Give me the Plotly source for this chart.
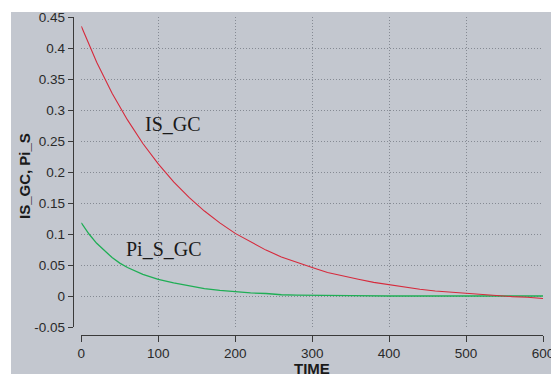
import plotly.graph_objects as go

# ---- data ----
is_time = [0, 20, 40, 60, 80, 100, 120, 140, 160, 180, 200, 220, 240, 260, 280, 300,
           320, 340, 360, 380, 400, 420, 440, 460, 480, 500, 520, 540, 560, 580, 600]
is_gc = [0.435, 0.377, 0.327, 0.284, 0.246, 0.213, 0.184, 0.159, 0.137, 0.118, 0.101,
         0.087, 0.074, 0.063, 0.054, 0.046, 0.038, 0.032, 0.027, 0.022, 0.018, 0.014,
         0.011, 0.008, 0.006, 0.004, 0.002, 0.0005, -0.001, -0.002, -0.004]

pi_time = [0, 10, 20, 30, 40, 50, 60, 80, 100, 120, 140, 160, 180, 200, 220, 240, 260,
           280, 300, 350, 400, 450, 500, 550, 600]
pi_s_gc = [0.118, 0.100, 0.085, 0.073, 0.062, 0.053, 0.046, 0.035, 0.027, 0.021, 0.016,
           0.012, 0.009, 0.0065, 0.005, 0.004, 0.002, 0.0015, 0.001, 0.0005, 0.0, 0.0,
           0.0, 0.0, 0.0]

x_ticks = [0, 100, 200, 300, 400, 500, 600]
y_ticks = [-0.05, 0, 0.05, 0.1, 0.15, 0.2, 0.25, 0.3, 0.35, 0.4, 0.45]
y_tick_labels = ["-0.05", "0", "0.05", "0.1", "0.15", "0.2", "0.25", "0.3", "0.35", "0.4", "0.45"]

W, H = 551, 374
BG = "#c3c7cf"
GRID = "#858a93"
AX = "#3a3a3a"

def px_x(p):
    return p / W

def px_y(p):
    return (H - p) / H

fig = go.Figure()
fig.add_trace(go.Scatter(x=pi_time, y=pi_s_gc, mode="lines",
                         line=dict(color="#1fae55", width=1.3), name="Pi_S_GC"))
fig.add_trace(go.Scatter(x=is_time, y=is_gc, mode="lines",
                         line=dict(color="#d62a3c", width=1.1), name="IS_GC"))

tickfont = dict(family="Liberation Sans, Arial, sans-serif", size=13.5, color="#2a2a2a")

fig.update_layout(
    width=W, height=H,
    margin=dict(l=0, r=0, t=0, b=0, pad=0),
    paper_bgcolor="white",
    plot_bgcolor=BG,
    showlegend=False,
    xaxis=dict(
        domain=[px_x(81.3), px_x(543)],
        range=[0, 600],
        anchor="free", position=px_y(335),
        tickvals=x_ticks, ticktext=[str(v) for v in x_ticks],
        ticks="outside", ticklen=6, tickcolor=AX, tickwidth=1,
        showline=True, linecolor=AX, linewidth=1,
        showgrid=True, gridcolor=GRID, griddash="1px,2px", gridwidth=1,
        zeroline=False, tickfont=tickfont, automargin=False,
        ticklabeloverflow="allow",
    ),
    yaxis=dict(
        domain=[px_y(327), px_y(17)],
        range=[-0.05, 0.45],
        anchor="free", position=px_x(72.7),
        tickvals=y_ticks, ticktext=y_tick_labels,
        ticks="outside", ticklen=5, tickcolor=AX, tickwidth=1,
        showline=True, linecolor=AX, linewidth=1,
        showgrid=True, gridcolor=GRID, griddash="1px,2px", gridwidth=1,
        zeroline=False, tickfont=tickfont, automargin=False,
        ticklabeloverflow="allow",
    ),
    shapes=[dict(type="rect", xref="paper", yref="paper",
                 x0=px_x(11), x1=1.0, y0=0.0, y1=px_y(12),
                 fillcolor=BG, line=dict(width=0), layer="below")],
    annotations=[
        dict(text="<b>IS_GC, Pi_S</b>", xref="paper", yref="paper",
             x=px_x(24), y=px_y(176), textangle=-90, showarrow=False,
             xanchor="center", yanchor="middle",
             font=dict(family="Liberation Sans, Arial, sans-serif", size=15, color="#1a1a1a")),
        dict(text="<b>TIME</b>", xref="paper", yref="paper",
             x=px_x(312), y=px_y(368), showarrow=False,
             xanchor="center", yanchor="middle",
             font=dict(family="Liberation Sans, Arial, sans-serif", size=15, color="#1a1a1a")),
        dict(text="IS_GC", xref="paper", yref="paper",
             x=px_x(173), y=px_y(124), showarrow=False,
             xanchor="center", yanchor="middle",
             font=dict(family="Liberation Serif, Times New Roman, serif", size=20, color="#1a1a1a")),
        dict(text="Pi_S_GC", xref="paper", yref="paper",
             x=px_x(164), y=px_y(249), showarrow=False,
             xanchor="center", yanchor="middle",
             font=dict(family="Liberation Serif, Times New Roman, serif", size=20, color="#1a1a1a")),
    ],
)

fig.write_html("out.html", config={"displayModeBar": False},
               post_script="document.body.style.margin='0';document.body.style.overflow='hidden';")
